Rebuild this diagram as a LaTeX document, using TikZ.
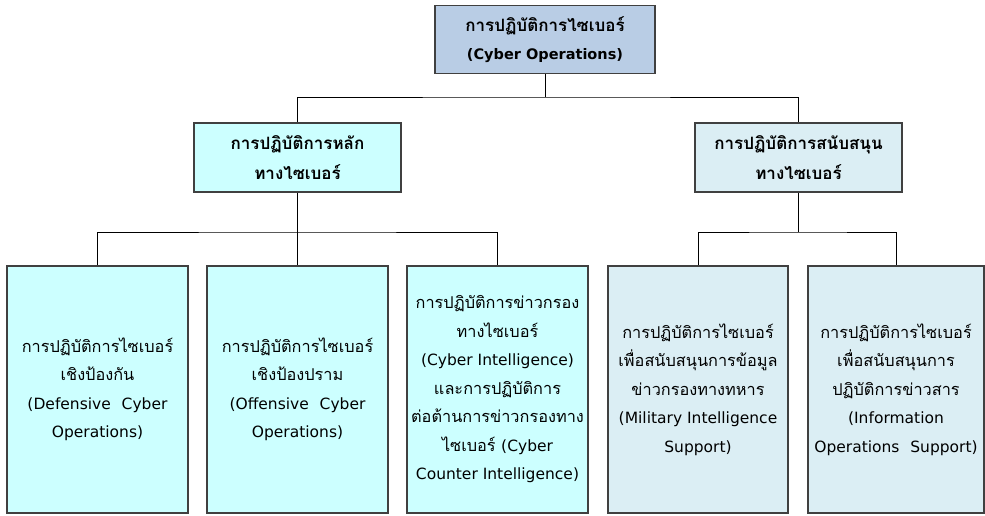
\documentclass[tikz,border=0pt]{standalone}
\usepackage{fontspec}
\setmainfont[Script=Thai]{Loma}
\newfontfamily\latfont{DejaVu Sans}
\newcommand\lt[1]{{\latfont\fontsize{15.5}{28.5}\selectfont #1}}
\newcommand\ltb[1]{{\latfont\fontsize{14.5}{28}\selectfont #1}}
\newcommand\wsp{\hspace{0.7em}}
\usetikzlibrary{calc}
\definecolor{topc}{HTML}{B9CDE5}
\definecolor{cyanc}{HTML}{CCFFFF}
\definecolor{bluec}{HTML}{DBEEF4}
\definecolor{edgec}{HTML}{404040}
\tikzset{
  boxbase/.style={draw=edgec, line width=1.1pt, align=center, inner sep=0pt},
  topbox/.style={boxbase, fill=topc, minimum width=220pt, minimum height=68pt, font=\fontsize{17}{28}\selectfont\bfseries},
  midbox/.style={boxbase, minimum width=207pt, minimum height=69pt, font=\fontsize{17}{30}\selectfont\bfseries},
  lowbox/.style={boxbase, minimum width=181pt, minimum height=247pt, font=\fontsize{16.3}{28.5}\selectfont},
  conn/.style={draw=black, line width=0.9pt}
}
\begin{document}
\begin{tikzpicture}[x=1pt,y=-1pt]
\useasboundingbox (0,0) rectangle (985,516);
\node[topbox] (top) at (545,39.5) {การปฏิบัติการไซเบอร์\\\ltb{(Cyber Operations)}};
\node[midbox, fill=cyanc] (ml) at (297.5,157.5) {การปฏิบัติการหลัก\\ทางไซเบอร์};
\node[midbox, fill=bluec] (mr) at (798.5,157.5) {การปฏิบัติการสนับสนุน\\ทางไซเบอร์};
\node[lowbox, fill=cyanc] (b1) at (97.5,389.5) {การปฏิบัติการไซเบอร์\\เชิงป้องกัน\\\lt{(Defensive\wsp Cyber}\\\lt{Operations)}};
\node[lowbox, fill=cyanc] (b2) at (297.5,389.5) {การปฏิบัติการไซเบอร์\\เชิงป้องปราม\\\lt{(Offensive\wsp Cyber}\\\lt{Operations)}};
\node[lowbox, fill=cyanc] (b3) at (497.5,389.5) {การปฏิบัติการข่าวกรอง\\ทางไซเบอร์\\\lt{(Cyber Intelligence)}\\และการปฏิบัติการ\\ต่อต้านการข่าวกรองทาง\\ไซเบอร์ \lt{(Cyber}\\\lt{Counter Intelligence)}};
\node[lowbox, fill=bluec, minimum width=180pt] (b4) at (698,389.5) {การปฏิบัติการไซเบอร์\\เพื่อสนับสนุนการข้อมูล\\ข่าวกรองทางทหาร\\\lt{(Military Intelligence}\\\lt{Support)}};
\node[lowbox, fill=bluec, minimum width=176pt] (b5) at (896,389.5) {การปฏิบัติการไซเบอร์\\เพื่อสนับสนุนการ\\ปฏิบัติการข่าวสาร\\\lt{(Information}\\\lt{Operations\wsp Support)}};
\coordinate (y1) at (0,97);
\coordinate (y2) at (0,232);
\draw[conn] (top.south) -- (top.south |- y1);
\draw[conn] (ml.north) |- (top.south |- y1) -| (mr.north);
\draw[conn] (ml.south) -- (b2.north);
\draw[conn] (b1.north) |- (ml.south |- y2) -| (b3.north);
\draw[conn] (mr.south) -- (mr.south |- y2);
\draw[conn] (b4.north) |- (mr.south |- y2) -| (b5.north);
\end{tikzpicture}
\end{document}
